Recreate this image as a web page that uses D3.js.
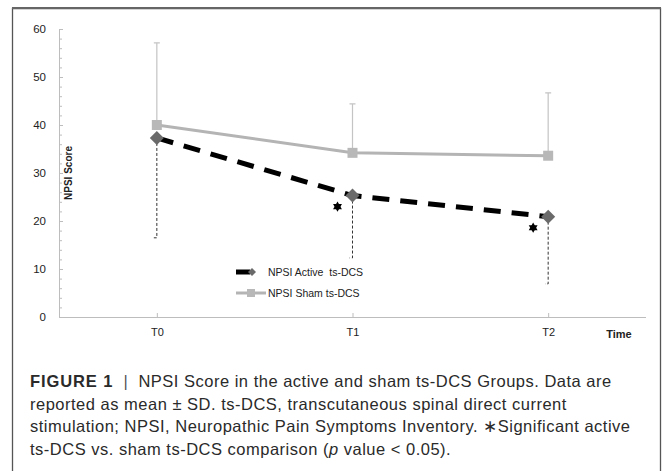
<!DOCTYPE html>
<html>
<head>
<meta charset="utf-8">
<script src="https://cdn.jsdelivr.net/npm/d3@7"></script>
<style>
  body { margin: 0; background: #fff; }
  svg { display: block; }
</style>
</head>
<body>
<div id="chart-area"></div>
<script>

// data
var times = ["T0", "T1", "T2"];
var activeMean = [37.3, 25.3, 20.9];
var activeSD = [20.8, 13.0, 14.0];
var shamMean = [40.0, 34.2, 33.6];
var shamSD = [17.1, 10.2, 13.1];
var starValues = [null, 23.0, 18.6];   // * significant active vs sham
var yTicks = [0, 10, 20, 30, 40, 50, 60];
var legendLabels = ["NPSI Active  ts-DCS", "NPSI Sham ts-DCS"];
var captionLines = [
    ["FIGURE 1", "  |  ", "NPSI Score in the active and sham ts-DCS Groups. Data are"],
    ["reported as mean \u00b1 SD. ts-DCS, transcutaneous spinal direct current"],
    ["stimulation; NPSI, Neuropathic Pain Symptoms Inventory. \u2217Significant active"],
    ["ts-DCS vs. sham ts-DCS comparison (", "p", " value < 0.05)."]
];

var W = 666, H = 471;
var plot = { left: 59, right: 646, top: 29, bottom: 317 };
var axisFont = "'Liberation Sans', Arial, sans-serif";

var svg = d3.select("#chart-area")
    .append("svg")
        .attr("width", W)
        .attr("height", H);

// outer frame (open at the bottom)
svg.append("path")
    .attr("d", "M12.5," + (H + 2) + "V8.5H660.5V" + (H + 2))
    .attr("fill", "none")
    .attr("stroke", "#555")
    .attr("stroke-width", 1.3);
svg.append("line")
    .attr("x1", 12).attr("x2", 661)
    .attr("y1", 8).attr("y2", 8)
    .attr("stroke", "#666").attr("stroke-width", 2);

// scales
var x = d3.scalePoint()
    .domain(times)
    .range([plot.left, plot.right])
    .padding(0.5);

var y = d3.scaleLinear()
    .domain([0, 60])
    .range([plot.bottom, plot.top]);

// Y axis (major ticks labelled, minor ticks every 2)
var minor = d3.range(0, 61, 2).filter(function(d){ return d % 10 != 0; });
var yMinor = svg.append("g")
    .attr("transform", "translate(" + plot.left + ",0)")
    .call(d3.axisLeft(y).tickValues(minor).tickSize(-3).tickFormat(""));
var yAxis = svg.append("g")
    .attr("transform", "translate(" + plot.left + ",0)")
    .call(d3.axisLeft(y).tickValues(yTicks).tickSize(-4).tickPadding(13).tickSizeOuter(0));
yMinor.select(".domain").remove();
svg.selectAll(".domain, .tick line").attr("stroke", "#bdbdbd");
yAxis.selectAll("text")
    .attr("font-family", axisFont)
    .attr("font-size", "11.5px")
    .attr("fill", "#222");

// X Axis
var xAxis = svg.append("g")
    .attr("transform", "translate(0," + plot.bottom + ")")
    .call(d3.axisBottom(x).tickSize(-4).tickPadding(11).tickSizeOuter(0));
xAxis.select(".domain")
    .attr("d", "M" + plot.left + ",0.5H" + plot.right)
    .attr("stroke", "#bdbdbd");
xAxis.selectAll(".tick line").attr("stroke", "#bdbdbd");
xAxis.selectAll("text")
    .attr("font-family", axisFont)
    .attr("font-size", "11px")
    .attr("fill", "#222");

// axis titles
svg.append("text")
    .attr("transform", "translate(72," + y(30) + ") rotate(-90)")
    .attr("text-anchor", "middle")
    .attr("font-family", axisFont)
    .attr("font-size", "10px")
    .attr("font-weight", "bold")
    .attr("fill", "#222")
    .text("NPSI Score");

svg.append("text")
    .attr("x", 619).attr("y", 338)
    .attr("text-anchor", "middle")
    .attr("font-family", axisFont)
    .attr("font-size", "11px")
    .attr("font-weight", "bold")
    .attr("fill", "#222")
    .text("Time");

var sham = times.map(function(t, i){ return { t: t, m: shamMean[i], sd: shamSD[i] }; });
var active = times.map(function(t, i){ return { t: t, m: activeMean[i], sd: activeSD[i], star: starValues[i] }; });

// sham error bars (upper)
svg.selectAll(".sham-err")
    .data(sham)
    .enter().append("path")
    .attr("class", "sham-err")
    .attr("d", function(d){
        var cx = x(d.t), top = y(d.m + d.sd);
        return "M" + cx + "," + y(d.m) + "V" + top + "M" + (cx - 3) + "," + top + "H" + (cx + 3);
    })
    .attr("stroke", "#c4c4c4")
    .attr("stroke-width", 1.2)
    .attr("fill", "none");

// active error bars (lower, dashed)
svg.selectAll(".act-err")
    .data(active)
    .enter().append("path")
    .attr("class", "act-err")
    .attr("d", function(d){
        var cx = x(d.t), bot = y(d.m - d.sd);
        return "M" + cx + "," + y(d.m) + "V" + bot + "H" + (cx - 3);
    })
    .attr("stroke", "#333")
    .attr("stroke-width", 1)
    .attr("stroke-dasharray", "3,2")
    .attr("fill", "none");

var line = d3.line()
    .x(function(d){ return x(d.t); })
    .y(function(d){ return y(d.m); });

// sham line
svg.append("path")
    .datum(sham)
    .attr("d", line)
    .attr("fill", "none")
    .attr("stroke", "#b4b4b4")
    .attr("stroke-width", 3);

// active line
svg.append("path")
    .datum(active)
    .attr("d", line)
    .attr("fill", "none")
    .attr("stroke", "#000")
    .attr("stroke-width", 5)
    .attr("stroke-dasharray", "17,11");

// markers
svg.selectAll(".sq")
    .data(sham)
    .enter().append("rect")
    .attr("x", function(d){ return x(d.t) - 5; })
    .attr("y", function(d){ return y(d.m) - 5; })
    .attr("width", 10).attr("height", 10)
    .attr("fill", "#b8b8b8");

svg.selectAll(".dia")
    .data(active)
    .enter().append("path")
    .attr("transform", function(d){ return "translate(" + x(d.t) + "," + y(d.m) + ")"; })
    .attr("d", "M0,-7L7,0L0,7L-7,0Z")
    .attr("fill", "#6a6a6a");

// significance stars
var tri = d3.symbol(d3.symbolTriangle, 34);
var stars = svg.selectAll(".star")
    .data(active.filter(function(d){ return d.star != null; }))
    .enter().append("g")
    .attr("transform", function(d){ return "translate(" + (x(d.t) - 15) + "," + y(d.star) + ")"; });
stars.append("path").attr("d", tri).attr("fill", "#000");
stars.append("path").attr("d", tri).attr("transform", "rotate(180)").attr("fill", "#000");

// legend
var lg = svg.append("g").attr("transform", "translate(236,272)");
lg.append("line")
    .attr("x1", 0).attr("x2", 14).attr("y1", 0).attr("y2", 0)
    .attr("stroke", "#000").attr("stroke-width", 5);
lg.append("path")
    .attr("transform", "translate(16,0)")
    .attr("d", "M0,-4L4,0L0,4L-4,0Z")
    .attr("fill", "#6a6a6a");
lg.append("line")
    .attr("x1", 0).attr("x2", 30).attr("y1", 21).attr("y2", 21)
    .attr("stroke", "#b4b4b4").attr("stroke-width", 3);
lg.append("rect")
    .attr("x", 11).attr("y", 17).attr("width", 8).attr("height", 8)
    .attr("fill", "#b8b8b8");
lg.selectAll("text.leg")
    .data(legendLabels)
    .enter().append("text")
    .attr("x", 32)
    .attr("y", function(d, i){ return i * 21 + 4; })
    .attr("font-family", axisFont)
    .attr("font-size", "10.5px")
    .attr("fill", "#222")
    .style("white-space", "pre")
    .text(function(d){ return d; });

// caption
var cap = svg.append("g");
captionLines.forEach(function(parts, i){
    var t = cap.append("text")
        .attr("x", 30)
        .attr("y", 387 + i * 22.7)
        .attr("font-family", "'Liberation Sans', Arial, sans-serif")
        .attr("font-size", "16.5px")
        .attr("letter-spacing", "0.5px")
        .attr("fill", "#2a2a2a")
        .style("white-space", "pre");
    parts.forEach(function(p, j){
        var s = t.append("tspan").text(p);
        if (i == 0 && j == 0) s.attr("font-weight", "bold").attr("letter-spacing", "0.9px");
        if (i == 0 && j == 1) s.attr("fill", "#555");
        if (i == 3 && j == 1) s.attr("font-style", "italic");
    });
});

</script>
</body>
</html>
